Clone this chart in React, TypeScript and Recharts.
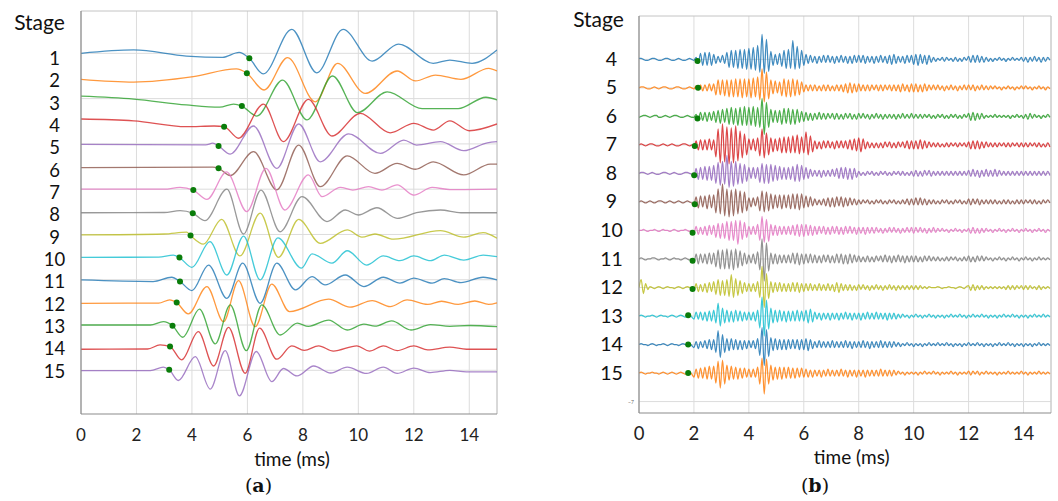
import React from 'react';
import { LineChart, Line, XAxis, YAxis, CartesianGrid, ReferenceLine } from 'recharts';

// ---------------- Panel (a) ----------------
// each trace: [time ms, amplitude] ; amplitude in tenths of stage spacing, positive = up
const STAGES_A = [1, 2, 3, 4, 5, 6, 7, 8, 9, 10, 11, 12, 13, 14, 15];
const X_TICKS = [0, 2, 4, 6, 8, 10, 12, 14];

const A1 = [[0,0],[1.9,1.5],[3.8,-1.2],[5.1,-1.8],[5.7,0.4],[6.07,-2.2],[6.57,-9.1],[7.6,10.6],[8.5,-8.6],[9.45,10.6],[10.5,-3.4],[11.45,4.1],[12.7,-4.4],[13.3,-3],[14.1,-4.4],[15,1.5]];
const A2 = [[0,-1.5],[1.9,-2.7],[4.05,-0.3],[5.6,3.1],[5.98,1.2],[6.6,-6.2],[7.45,8.1],[8.45,-11.4],[9.25,5.6],[10.25,-7.7],[11.4,2.2],[12.06,-2.2],[12.78,0.4],[13.7,-1.5],[14.7,3.4],[15,2.2]];
const A3 = [[0,1.1],[1.9,-0.2],[3.8,-2.8],[5.0,-3.8],[5.5,-2.4],[5.8,-3.3],[6.34,-7.7],[7.27,8.2],[8.15,-9.4],[9.07,10],[9.97,-6.2],[11.04,3.0],[12.3,-4.4],[13.6,-4.4],[14.6,0.6],[15,-0.6]];
const A4 = [[0,1.0],[1.9,0.2],[3.8,-2.4],[4.8,-2.1],[5.16,-2.4],[5.68,-7.5],[6.58,7.6],[7.3,-9],[8.2,9.7],[9.05,-6.5],[10.07,3.5],[11.15,-5.1],[12.0,-0.9],[12.7,-3.9],[13.3,0.2],[14.0,-4.2],[15,-1.2]];
const A5 = [[0,-0.2],[4.5,-0.4],[4.75,0.3],[4.96,-0.9],[5.38,-4.5],[6.22,7.9],[7.06,-10.8],[7.85,8.8],[8.63,-7.9],[9.65,4.4],[10.8,-4.2],[11.64,1.7],[12.1,-0.5],[12.96,1.0],[13.8,-3.0],[14.65,0.5],[15,1.0]];
const A6 = [[0,-0.5],[4.75,-0.3],[4.96,-0.8],[5.38,-4.0],[6.22,6.6],[7.06,-10.3],[7.85,9.5],[8.63,-8.9],[9.6,4.7],[10.6,-3.0],[11.4,1.4],[12.06,-1.2],[12.7,2.1],[13.8,-3.7],[14.76,1.1],[15,1.1]];
const A7 = [[0,0],[3.0,0],[3.57,0.8],[4.05,-0.4],[4.54,-4.5],[5.25,7.6],[5.98,-9.9],[6.67,9.2],[7.35,-9.2],[8.2,6.3],[8.69,-3.3],[9.35,0.8],[9.8,-0.4],[10.37,1.1],[10.85,-0.4],[11.4,1.9],[12.0,-2.6],[12.66,0.8],[13.3,-0.2],[15,0]];
const A8 = [[0,-0.4],[3.0,-0.3],[3.57,0.5],[4.03,-0.6],[4.47,-3.9],[5.26,10],[5.86,-9.8],[6.49,9.6],[7.18,-8.8],[7.97,6.7],[8.87,-4.3],[9.53,0.8],[10.0,-1.4],[10.67,1.8],[11.4,-2.9],[12.1,-0.4],[12.96,0.8],[13.7,-0.4],[15,-0.4]];
const A9 = [[0,-0.2],[3.0,0.2],[3.81,1.0],[3.95,-0.5],[4.41,-4.3],[5.07,6.7],[5.73,-9.5],[6.46,9.4],[7.12,-10.1],[7.85,6.7],[8.63,-3.9],[9.6,2.0],[10.13,-1.2],[10.6,0.2],[11.27,-2.1],[12.96,1.7],[13.8,-1.2],[14.5,0.8],[15,-1.7]];
const A10 = [[0,-0.1],[2.8,0],[3.33,0.9],[3.55,-0.2],[4.0,-4.5],[4.65,6.8],[5.26,-7.9],[5.86,9.3],[6.46,-10.1],[7.1,8.5],[7.95,-4.9],[8.33,1.4],[9.05,-2.7],[9.6,2.8],[10.3,-3.5],[10.9,0.5],[11.5,-1.6],[12.0,0.5],[12.6,-1.6],[13.1,0.9],[13.8,-1.3],[14.5,0.9],[15,0.2]];
const A11 = [[0,-0.1],[2.6,-0.8],[3.27,1.1],[3.57,-0.8],[4.0,-4.8],[4.6,6.5],[5.26,-8.2],[5.83,7.3],[6.46,-10.4],[7.06,7.3],[7.73,-4.5],[8.33,1.4],[8.8,-2.3],[9.53,2.1],[10.2,-3.0],[10.9,1.1],[11.5,-1.5],[12.0,0.7],[12.66,-1.5],[13.1,0.5],[13.7,-1.3],[14.5,1.1],[15,-0.1]];
const A12 = [[0,-0.4],[2.8,-0.3],[3.2,1.1],[3.45,-0.1],[3.87,-5.1],[4.54,7.0],[5.14,-8.5],[5.68,9.6],[6.28,-10.7],[6.88,8.1],[7.52,-4.1],[8.93,1.4],[9.7,-2.1],[10.5,0.8],[11.15,-1.9],[11.76,1.1],[12.5,-0.9],[13.0,0.5],[13.6,-0.9],[14.2,0.6],[14.7,-0.9],[15,-0.2]];
const A13 = [[0,0],[2.5,0],[2.97,1.5],[3.3,-0.3],[3.67,-5.4],[4.27,7.0],[4.84,-8.3],[5.38,8.9],[5.96,-11.3],[6.52,8.9],[7.18,-4.4],[7.8,0.8],[8.2,-0.6],[8.93,2.2],[9.6,-2.2],[10.2,0.4],[10.6,-0.5],[11.2,1.8],[11.9,-2.2],[12.6,0.2],[13.3,-0.6],[14.0,-0.2],[15,-0.7]];
const A14 = [[0,-0.7],[2.4,-0.6],[2.85,1.2],[3.21,0.5],[3.63,-5.4],[4.23,7.1],[4.78,-8.1],[5.32,9.0],[5.92,-11.3],[6.44,8.6],[7.06,-5.1],[7.6,0.8],[8.05,-1.2],[8.57,0.8],[9.1,-1.5],[9.95,0.8],[10.4,-1.5],[10.9,0.8],[11.4,-1.3],[12.0,0.8],[12.5,-1.0],[13.3,0.2],[13.9,-0.7],[15,-0.7]];
const A15 = [[0,-0.1],[2.5,-0.1],[2.97,1.4],[3.18,0.2],[3.51,-4.5],[4.12,6.0],[4.66,-8.3],[5.2,8.7],[5.71,-11.3],[6.32,8.3],[6.88,-5.0],[7.3,0.8],[7.79,-2.5],[8.39,1.9],[9.0,-1.2],[9.6,1.4],[10.3,-1.4],[10.9,1.4],[11.4,-1.4],[12.0,1.0],[12.6,-1.0],[13.3,0.0],[13.9,-0.7],[15,-0.7]];
const TRACES_A = [A1, A2, A3, A4, A5, A6, A7, A8, A9, A10, A11, A12, A13, A14, A15];
// onset picks (green dots) [time, amplitude]
const ONSET_A = [[6.07,-2.2],[5.98,1.2],[5.8,-3.3],[5.16,-2.4],[4.96,-0.9],[4.96,-0.8],[4.05,-0.4],[4.03,-0.6],[3.95,-0.5],[3.55,-0.2],[3.57,-0.8],[3.45,-0.1],[3.3,-0.3],[3.21,0.5],[3.18,0.2]];

// ---------------- Panel (b) ----------------
// samples every 0.08 ms, amplitude in px-like units (28.5 units = one stage spacing), positive = up
const STAGES_B = [4, 5, 6, 7, 8, 9, 10, 11, 12, 13, 14, 15];
const SAMPLE_STEP_B = 0.08;
const B4 = [
  1,1,0,-1,-1, 0,1,1,0,-1, -1,0,1,1,0, -1,-1,0,1,0, -1,-1,0,1,0,
  -1,2,-4,6,-6, 7,-6,7,-6,5, -4,3,-3,4,-4, 7,-8,9,-8,9, -9,10,-9,10,-10,
  11,-10,12,-11,14, -13,25,-14,20,-12, 8,-6,5,-5,6, -7,9,-9,10,-9, 19,-10,13,-9,9,
  -6,5,-4,4,-3, 3,-4,3,-3,4, -3,4,-3,3,-4, 3,-3,4,-3,3, -4,3,-4,4,-3,
  4,-3,4,-4,3, -3,3,-4,3,-3, 4,-3,3,-4,4, -5,5,-4,3,-3, 3,-4,4,-3,4,
  -5,5,-6,5,-4, 4,-5,4,-3,2, -2,1,-1,2,-2, 2,-1,1,-2,2, -2,1,-2,2,-1,
  3,-3,4,-3,4, -3,3,-3,2,-2, 1,-2,1,-1,2, -1,1,-2,1,-1, 2,-1,1,-1,2,
  -2,2,-3,2,-2, 3,-2,2,-3,2, -2,2,-1,
];
const B5 = [
  0,1,1,0,-1, -1,0,1,0,-1, 0,1,1,0,-1, -1,0,1,1,0, -1,-1,0,1,0,
  -1,2,-2,3,-3, 3,-3,4,-3,4, -7,8,-7,8,-8, 8,-9,8,-9,9, -9,9,-10,9,-9,
  9,-10,10,-9,11, -12,19,-14,16,-11, 8,-6,7,-5,6, -8,9,-9,8,-9, 9,-8,8,-7,6,
  -4,3,-3,3,-3, 3,-3,2,-3,3, -3,3,-3,2,-3, 3,-3,3,-4,4, -5,5,-5,4,-4,
  4,-3,3,-3,3, -3,3,-2,3,-3, 3,-3,3,-2,3, -3,3,-3,3,-4, 4,-3,3,-4,4,
  -4,4,-4,3,-4, 4,-3,3,-2,3, -2,3,-2,2,-3, 2,-2,3,-2,2, -3,2,-2,3,-2,
  3,-2,3,-3,2, -2,3,-2,2,-2, 2,-1,2,-1,1, -2,1,-1,2,-1, 1,-2,1,-1,2,
  -1,2,-1,1,-2, 1,-1,2,-1,1, -2,1,-1,
];
const B6 = [
  -1,0,1,1,0, -1,0,1,1,-1, -1,0,1,0,-1, 0,1,1,0,-1, -1,0,1,0,-1,
  -1,2,-3,4,-4, 4,-5,4,-4,5, -6,6,-7,7,-6, 8,-8,9,-8,8, -9,9,-9,10,-9,
  9,-9,10,-10,9, -11,18,-18,14,-11, 7,-6,6,-6,6, -8,8,-7,8,-8, 7,-8,7,-6,5,
  -5,4,-4,3,-4, 3,-3,4,-3,3, -3,3,-2,3,-3, 3,-3,2,-3,3, -2,3,-3,2,-3,
  3,-2,3,-2,2, -3,2,-2,3,-2, 2,-3,2,-2,2, -2,2,-3,2,-2, 3,-2,2,-2,3,
  -2,2,-2,2,-2, 2,-1,2,-2,1, -2,2,-1,2,-2, 1,-2,2,-1,2, -2,1,-2,2,-1,
  3,-4,4,-4,3, -3,3,-2,1,-1, 1,-1,2,-1,1, -1,1,-1,1,-2, 1,-1,2,-1,1,
  -2,2,-3,3,-2, 2,-1,1,-2,1, -1,2,-1,
];
const B7 = [
  0,1,0,-1,0, 1,1,0,-1,-1, 0,1,0,-1,0, 1,0,-1,-1,0, 1,1,0,-1,0,
  -3,4,-5,5,-5, 5,-5,6,-5,5, -12,16,-18,21,-17, 18,-19,17,-18,19, -16,14,-13,11,-10,
  6,-5,6,-6,7, -11,16,-13,12,-10, 7,-7,6,-6,7, -8,8,-8,8,-8, 9,-8,10,-9,8,
  -8,13,-10,9,-7, 4,-4,3,-4,4, -3,4,-3,3,-4, 4,-3,4,-3,4, -4,5,-5,6,-6,
  7,-7,6,-4,3, -3,2,-3,2,-3, 2,-3,3,-2,3, -3,2,-3,3,-2, 3,-3,4,-4,4,
  -4,4,-4,5,-4, 4,-3,3,-2,2, -2,2,-2,1,-2, 2,-2,2,-1,2, -2,2,-1,2,-2,
  3,-4,4,-4,4, -4,3,-3,3,-2, 2,-2,2,-2,2, -1,2,-2,2,-2, 2,-1,2,-2,2,
  -2,2,-2,2,-1, 2,-2,2,-2,1, -2,2,-2,
];
const B8 = [
  0,1,1,0,-1, 0,1,0,-1,-1, 0,1,1,0,-1, 0,1,0,-1,-1, 0,1,1,0,-1,
  -4,5,-6,6,-6, 7,-7,7,-7,8, -10,11,-12,12,-11, 18,-14,12,-13,12, -11,10,-10,9,-8,
  6,-5,6,-5,6, -9,10,-10,9,-10, 9,-8,8,-7,7, -6,6,-6,6,-6, 7,-8,9,-8,8,
  -6,6,-5,4,-3, 3,-3,3,-4,3, -3,3,-3,4,-3, 5,-5,6,-5,6, -6,5,-6,5,-4,
  2,-2,1,-2,2, -1,2,-2,1,-2, 2,-1,2,-2,1, -2,2,-1,2,-2, 2,-2,1,-2,2,
  -3,3,-3,2,-3, 3,-2,3,-3,2, -2,2,-2,2,-2, 2,-2,2,-2,2, -2,2,-2,2,-2,
  3,-3,4,-3,3, -4,3,-3,4,-3, 3,-3,4,-3,3, -2,2,-2,2,-2, 2,-2,2,-2,2,
  -2,2,-2,2,-2, 2,-2,2,-2,2, -2,2,-2,
];
const B9 = [
  0,1,0,-1,0, 1,0,-1,0,1, 1,0,-1,0,1, 0,-1,0,1,0, -1,0,1,0,-1,
  -3,5,-6,6,-5, 6,-7,7,-6,7, -11,13,-12,18,-14, 13,-15,12,-14,13, -12,11,-11,10,-9,
  4,-5,4,-4,5, -9,11,-10,10,-9, 8,-7,7,-6,7, -7,7,-6,7,-7, 8,-7,8,-8,8,
  -6,6,-5,5,-4, 3,-3,2,-3,3, -4,4,-5,4,-5, 5,-4,5,-5,4, -4,4,-3,3,-3,
  2,-2,2,-1,2, -2,1,-2,2,-1, 2,-2,1,-2,2, -1,2,-2,1,-2, 2,-2,3,-3,3,
  -3,4,-3,4,-3, 3,-3,2,-2,2, -2,1,-2,2,-1, 2,-2,1,-2,2, -1,2,-2,1,-2,
  3,-3,3,-2,3, -3,2,-2,2,-2, 2,-2,2,-2,1, -2,2,-2,2,-2, 1,-2,2,-2,2,
  -2,2,-1,2,-2, 2,-2,1,-2,2, -1,2,-1,
];
const B10 = [
  0,0,1,0,-1, 0,0,1,0,-1, 0,1,0,0,-1, 0,1,0,-1,0, 0,1,0,-1,0,
  -3,4,-4,3,-4, 4,-5,5,-4,5, -7,7,-8,7,-8, 9,-10,9,-10,10, -14,10,-9,8,-7,
  4,-4,4,-4,6, -10,14,-12,11,-11, 6,-5,5,-5,4, -4,4,-4,4,-4, 5,-5,6,-6,6,
  -6,6,-5,5,-5, 4,-4,4,-3,4, -4,3,-4,4,-3, 4,-4,3,-4,4, -3,4,-3,3,-4,
  3,-3,3,-4,3, -3,3,-3,3,-2, 2,-3,2,-2,3, -2,3,-2,2,-3, 2,-2,3,-2,3,
  -3,3,-2,3,-2, 2,-3,2,-2,3, -2,2,-1,2,-1, 1,-2,1,-1,2, -1,1,-2,1,-1,
  2,-3,3,-3,2, -3,2,-2,2,-1, 1,-2,1,-1,2, -1,1,-2,1,-1, 2,-1,1,-2,1,
  -1,2,-1,1,-2, 1,-1,2,-1,1, -2,1,-1,
];
const B11 = [
  0,1,0,-1,0, 0,1,1,0,-1, 0,0,1,0,-1, 0,1,0,0,-1, 0,1,0,-1,0,
  -4,5,-5,5,-4, 5,-5,6,-5,6, -8,9,-10,9,-10, 10,-10,9,-11,10, -9,8,-7,6,-5,
  4,-4,5,-5,7, -11,20,-22,16,-12, 6,-5,5,-5,4, -4,4,-4,4,-4, 6,-5,6,-6,5,
  -5,5,-4,5,-4, 4,-4,3,-4,4, -3,4,-4,3,-4, 5,-4,5,-5,4, -5,5,-4,4,-3,
  3,-3,2,-3,3, -3,2,-3,3,-2, 3,-3,4,-3,3, -4,3,-3,4,-3, 3,-4,3,-3,3,
  -3,3,-3,2,-3, 3,-2,3,-2,2, -2,2,-2,1,-2, 2,-2,2,-1,2, -2,1,-2,2,-2,
  3,-3,2,-3,3, -2,3,-2,2,-1, 1,-2,1,-1,2, -1,1,-2,1,-1, 2,-1,1,-2,1,
  -1,2,-1,1,-2, 1,-1,2,-1,1, -1,1,-1,
];
const B12 = [
  0,8,-6,4,-2, 1,0,-1,0,1, 0,-1,0,1,0, 0,-1,0,1,0, -1,0,1,0,-1,
  -3,4,-4,3,-4, 4,-5,5,-4,6, -7,8,-8,7,-8, 8,-9,13,-10,9, -8,7,-6,5,-4,
  4,-4,4,-4,6, -10,21,-20,14,-11, 6,-5,5,-4,5, -4,4,-4,4,-4, 5,-4,5,-5,4,
  -4,4,-3,4,-3, 3,-3,4,-3,3, -3,4,-3,3,-4, 5,-5,4,-3,3, -3,3,-3,2,-3,
  3,-2,3,-2,2, -3,2,-2,3,-2, 2,-3,2,-2,3, -2,2,-3,2,-2, 2,-2,2,-2,2,
  -2,2,-2,2,-1, 1,-1,1,0,0, 0,1,0,-1,0, 0,1,0,0,-1, 0,1,0,-1,1,
  2,-3,3,-3,2, -2,2,-2,1,-1, 1,-1,1,-1,1, -1,1,-2,2,-2, 2,-2,2,-1,2,
  -2,2,-2,2,-1, 1,-2,2,-2,1, -1,1,-1,
];
const B13 = [
  0,1,0,-1,0, 0,1,0,-1,0, 1,0,0,-1,0, 1,0,-1,0,1, 0,-1,0,1,-1,
  -3,4,-3,4,-4, 4,-5,5,-5,6, -7,13,-10,8,-7, 6,-6,5,-6,6, -5,5,-5,4,-4,
  4,-4,4,-5,6, -12,19,-20,16,-13, 8,-7,6,-6,6, -5,5,-6,5,-5, 5,-5,6,-5,5,
  -5,6,-7,7,-6, 4,-3,3,-4,3, -3,3,-4,3,-3, 3,-4,3,-3,4, -3,3,-4,3,-3,
  3,-4,3,-3,4, -3,3,-3,4,-3, 3,-3,3,-4,3, -3,3,-3,2,-2, 2,-1,1,-2,1,
  -1,2,-1,1,-2, 1,-1,2,-1,1, -2,1,-1,1,-2, 1,-1,2,-1,1, -1,2,-1,1,-2,
  1,-1,2,-1,1, -1,2,-1,1,-2, 1,-1,1,-2,1, -1,2,-1,1,-1, 2,-1,1,-2,1,
  -1,1,-2,1,-1, 2,-1,1,-1,2, -1,1,-1,
];
const B14 = [
  0,1,0,0,-1, 0,1,0,-1,0, 0,1,0,-1,0, 1,0,0,-1,0, 1,0,-1,1,-1,
  -3,3,-4,3,-3, 4,-4,5,-5,5, -8,14,-13,10,-8, 6,-6,6,-5,5, -5,4,-5,4,-4,
  4,-3,4,-4,6, -11,17,-21,15,-12, 7,-6,6,-5,5, -5,5,-5,5,-4, 5,-4,5,-5,5,
  -5,6,-6,5,-4, 3,-3,4,-3,3, -3,3,-3,4,-3, 3,-3,3,-3,4, -3,3,-4,3,-3,
  3,-3,4,-3,3, -4,3,-3,3,-3, 4,-3,3,-3,3, -3,3,-2,2,-2, 1,-1,2,-1,1,
  -2,1,-1,1,-2, 1,-1,2,-1,1, -1,2,-1,1,-1, 2,-1,1,-2,1, -1,1,-2,1,-1,
  2,-1,1,-1,2, -1,1,-2,1,-1, 1,-2,1,-1,2, -1,1,-1,2,-1, 1,-2,1,-1,1,
  -2,1,-1,1,-2, 1,-1,2,-1,1, -1,1,-1,
];
const B15 = [
  0,1,0,-1,0, 0,1,0,0,-1, 0,1,0,-1,0, 1,0,-1,0,1, 0,-1,0,1,-1,
  -4,4,-5,5,-5, 6,-6,7,-6,7, -10,12,-15,13,-11, 8,-7,7,-6,6, -6,5,-5,5,-4,
  4,-4,4,-4,6, -11,15,-21,14,-11, 8,-7,6,-6,6, -6,6,-5,6,-5, 5,-5,5,-4,5,
  -4,4,-4,3,-4, 3,-3,3,-4,3, -3,4,-3,3,-3, 3,-3,4,-3,3, -4,3,-3,3,-4,
  3,-3,3,-4,3, -3,3,-3,3,-3, 4,-3,3,-3,3, -3,3,-2,2,-1, 1,-2,1,-1,1,
  -1,1,-2,1,-1, 2,-1,1,-1,2, -1,1,-2,1,-1, 1,-1,2,-1,1, -2,1,-1,1,-1,
  2,-2,2,-1,2, -2,1,-1,2,-1, 1,-1,1,-2,1, -1,1,-1,2,-1, 1,-1,1,-1,2,
  -1,1,-2,1,-1, 1,-1,2,-1,1, -1,1,-1,
];
const TRACES_B = [B4, B5, B6, B7, B8, B9, B10, B11, B12, B13, B14, B15];
// onset picks [time ms, amplitude]
const ONSET_B = [[2.13,-1.7],[2.15,0],[2.13,-2],[2.03,-1],[2.01,-1.7],[2.03,-2.3],[1.95,-2.3],[1.95,-1.7],[1.95,-1.6],[1.79,0.7],[1.79,0],[1.79,0]];

// ---------------- styling ----------------
const GAIN_A = 0.1;
const GAIN_B = 1 / 28.5;
const TAB = ['#1f77b4', '#ff7f0e', '#2ca02c', '#d62728', '#9467bd', '#8c564b', '#e377c2', '#7f7f7f', '#bcbd22', '#17becf'];
const COLORS_A = [0, 1, 2, 3, 4, 5, 6, 7, 8, 9, 0, 1, 2, 3, 4].map((i) => TAB[i]);
const COLORS_B = [0, 1, 2, 3, 4, 5, 6, 7, 8, 9, 0, 1].map((i) => TAB[i]);
const DOMAIN_A: [number, number] = [-0.87, 16.93];
const DOMAIN_B: [number, number] = [2.48, 16.4];
const GRID = '#dcdcdc';
const FRAME = '#c4c4c4';
const AXIS = '#8c8c8c';
const FONT = 'Lato, "Open Sans", sans-serif';

const tracesA = TRACES_A.map((tr, k) => tr.map(([t, s]) => ({ t, v: STAGES_A[k] - s * GAIN_A })));
const dotsA = ONSET_A.map(([t, s], k) => ({ t, v: STAGES_A[k] - s * GAIN_A }));

const dataB = B4.map((_, i) => {
  const row: Record<string, number> = { t: Math.round(i * SAMPLE_STEP_B * 100) / 100 };
  STAGES_B.forEach((st, j) => {
    const val = TRACES_B[j][i];
    if (val !== undefined) row['s' + st] = st - val * GAIN_B;
  });
  return row;
});
const dotsB = ONSET_B.map(([t, s], k) => ({ t, v: STAGES_B[k] - s * GAIN_B }));

const StageTickA = (props: any) => {
  const { y, payload } = props;
  const k = payload.value as number;
  const dy = 5 - (k - 1) * 0.31;
  return (
    <text x={54.5} y={y + dy} dy="0.36em" textAnchor="middle" fontSize={18.5} fill="#111" fontFamily={FONT}>
      {k}
    </text>
  );
};

const StageTickB = (props: any) => {
  const { y, payload } = props;
  return (
    <text x={91.5} y={y - 0.5} dy="0.36em" textAnchor="middle" fontSize={19.5} fill="#111" fontFamily={FONT}>
      {payload.value}
    </text>
  );
};

export default function App() {
  return (
    <div style={{ position: 'absolute', left: 0, top: 0, width: 1058, height: 501, background: '#fff', overflow: 'hidden' }}>
      <div style={{ position: 'absolute', left: 0, top: 0 }}>
        <LineChart width={510} height={501} margin={{ top: 11, right: 13, bottom: 57, left: 21 }}>
          <CartesianGrid stroke={GRID} horizontalValues={[1, 3, 5, 7, 9, 11, 13, 15]} />
          <XAxis
            type="number"
            dataKey="t"
            domain={[0, 15]}
            ticks={X_TICKS}
            interval={0}
            allowDataOverflow
            height={30}
            tickLine={false}
            tickSize={0}
            tickMargin={15}
            axisLine={{ stroke: AXIS, strokeWidth: 1.2 }}
            tick={{ fill: '#222', fontSize: 17, fontFamily: FONT }}
          />
          <YAxis
            type="number"
            domain={DOMAIN_A}
            reversed
            allowDataOverflow
            ticks={STAGES_A}
            interval={0}
            width={60}
            tickLine={false}
            axisLine={{ stroke: AXIS, strokeWidth: 1.2 }}
            tick={StageTickA}
          />
          <ReferenceLine y={DOMAIN_A[0]} stroke={FRAME} />
          <ReferenceLine x={15} stroke={FRAME} />
          {tracesA.map((d, k) => (
            <Line
              key={'a' + k}
              data={d}
              dataKey="v"
              type="monotone"
              stroke={COLORS_A[k]}
              strokeOpacity={0.8}
              strokeWidth={1.3}
              dot={false}
              activeDot={false}
              isAnimationActive={false}
            />
          ))}
          <Line
            data={dotsA}
            dataKey="v"
            stroke="none"
            dot={{ r: 3, fill: '#0a7d0a', stroke: 'none' }}
            activeDot={false}
            isAnimationActive={false}
          />
        </LineChart>
      </div>
      <div style={{ position: 'absolute', left: 520, top: 0 }}>
        <LineChart width={538} height={501} data={dataB} margin={{ top: 16, right: 7, bottom: 58, left: 59 }}>
          <CartesianGrid stroke={GRID} horizontalValues={[4, 5, 6, 7, 8, 9, 10, 11, 12, 13, 14, 15, 16]} />
          <XAxis
            type="number"
            dataKey="t"
            domain={[0, 15]}
            ticks={X_TICKS}
            interval={0}
            allowDataOverflow
            height={30}
            tickLine={false}
            tickSize={0}
            tickMargin={14}
            axisLine={{ stroke: AXIS, strokeWidth: 1.2 }}
            tick={{ fill: '#222', fontSize: 18.5, fontFamily: FONT }}
          />
          <YAxis
            type="number"
            domain={DOMAIN_B}
            reversed
            allowDataOverflow
            ticks={STAGES_B}
            interval={0}
            width={60}
            tickLine={false}
            axisLine={{ stroke: AXIS, strokeWidth: 1.2 }}
            tick={StageTickB}
          />
          <ReferenceLine y={DOMAIN_B[0]} stroke={FRAME} />
          <ReferenceLine x={15} stroke={FRAME} />
          {STAGES_B.map((st, k) => (
            <Line
              key={'b' + st}
              dataKey={'s' + st}
              type="monotone"
              stroke={COLORS_B[k]}
              strokeOpacity={0.85}
              strokeWidth={1.25}
              dot={false}
              activeDot={false}
              isAnimationActive={false}
            />
          ))}
          <Line
            data={dotsB}
            dataKey="v"
            stroke="none"
            dot={{ r: 3, fill: '#0a7d0a', stroke: 'none' }}
            activeDot={false}
            isAnimationActive={false}
          />
        </LineChart>
      </div>
      <svg width={1058} height={501} style={{ position: 'absolute', left: 0, top: 0, pointerEvents: 'none' }}>
        <text x={39.5} y={30} textAnchor="middle" fontSize={21} fill="#111" fontFamily={FONT}>Stage</text>
        <text x={598.5} y={27} textAnchor="middle" fontSize={21} fill="#111" fontFamily={FONT}>Stage</text>
        <text x={292} y={466} textAnchor="middle" fontSize={19} fill="#111" fontFamily={FONT}>time (ms)</text>
        <text x={851.7} y={464} textAnchor="middle" fontSize={19} fill="#111" fontFamily={FONT}>time (ms)</text>
        <text x={258.5} y={492} textAnchor="middle" fontSize={19} fill="#111" fontFamily='"DejaVu Serif", "Liberation Serif", serif'>
          (<tspan fontWeight="bold">a</tspan>)
        </text>
        <text x={815} y={492} textAnchor="middle" fontSize={19} fill="#111" fontFamily='"DejaVu Serif", "Liberation Serif", serif'>
          (<tspan fontWeight="bold">b</tspan>)
        </text>
        <text x={631} y={403.5} textAnchor="middle" fontSize={5} fill="#666" fontFamily={FONT}>−7</text>
      </svg>
    </div>
  );
}
